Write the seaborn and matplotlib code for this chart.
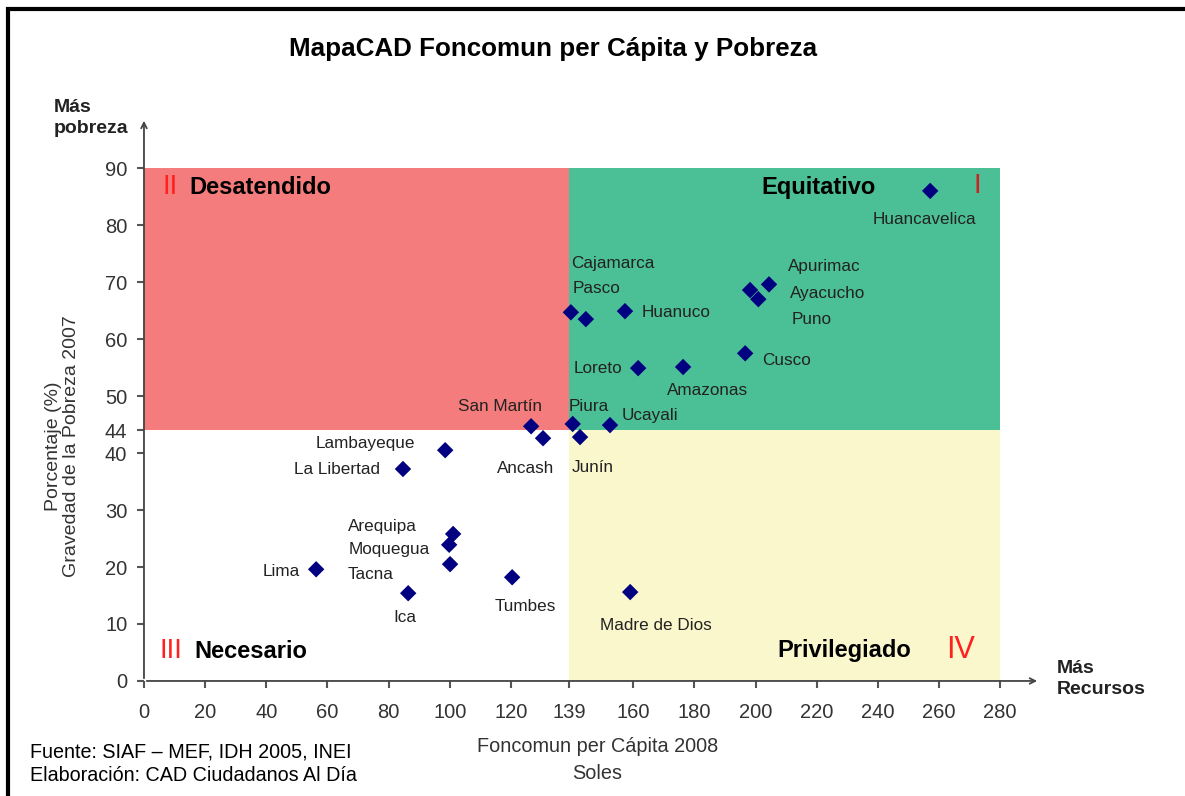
import pandas as pd
import matplotlib.pyplot as plt
import seaborn as sns
from matplotlib.patches import Rectangle

# -----------------------------
# Data
# -----------------------------

regions = [
    "Huancavelica", "Apurimac", "Ayacucho", "Puno", "Cajamarca", "Pasco",
    "Huanuco", "Loreto", "Amazonas", "Cusco", "Piura", "Ucayali", "Junín",
    "San Martín", "Ancash", "Lambayeque", "La Libertad", "Arequipa",
    "Moquegua", "Tacna", "Lima", "Ica", "Tumbes", "Madre de Dios",
]
foncomun = [
    257.1, 204.4, 198.2, 200.9, 139.6, 144.5,
    157.3, 161.6, 176.3, 196.6, 140.2, 152.4, 142.6,
    126.6, 130.5, 98.5, 84.7, 101.1,
    99.8, 100.1, 56.3, 86.4, 120.4, 159.0,
]
pobreza = [
    86.0, 69.6, 68.6, 67.0, 64.7, 63.5,
    64.9, 54.9, 55.1, 57.5, 45.1, 44.9, 42.8,
    44.7, 42.6, 40.5, 37.2, 25.8,
    23.9, 20.5, 19.6, 15.4, 18.2, 15.6,
]

x_ticks = [0, 20, 40, 60, 80, 100, 120, 139, 160, 180, 200, 220, 240, 260, 280]
y_ticks = [0, 10, 20, 30, 40, 44, 50, 60, 70, 80, 90]

X_CUT, Y_CUT = 139, 44
X_MAX, Y_MAX = 280, 90

df = pd.DataFrame({"region": regions, "foncomun": foncomun, "pobreza": pobreza})

# label placement: (dx, dy) in pixels from the marker, horizontal alignment
label_pos = {
    "Huancavelica": (-6, -29, "center"),
    "Apurimac": (19, 18, "left"),
    "Ayacucho": (40, -3, "left"),
    "Puno": (33, -20, "left"),
    "Cajamarca": (0, 49, "left"),
    "Pasco": (-13, 31, "left"),
    "Huanuco": (17, -1, "left"),
    "Loreto": (-16, 0, "right"),
    "Amazonas": (24, -24, "center"),
    "Cusco": (17, -7, "left"),
    "Piura": (-4, 17, "left"),
    "Ucayali": (12, 10, "left"),
    "Junín": (-8, -30, "left"),
    "San Martín": (-31, 20, "center"),
    "Ancash": (11, -30, "right"),
    "Lambayeque": (-30, 7, "right"),
    "La Libertad": (-23, -1, "right"),
    "Arequipa": (-105, 7, "left"),
    "Moquegua": (-101, -5, "left"),
    "Tacna": (-102, -10, "left"),
    "Lima": (-16, -2, "right"),
    "Ica": (-3, -24, "center"),
    "Tumbes": (13, -29, "center"),
    "Madre de Dios": (26, -33, "center"),
}

# -----------------------------
# Figure
# -----------------------------

sns.set_style("white")
plt.rcParams["font.family"] = ["Liberation Sans", "DejaVu Sans"]

fig = plt.figure(figsize=(11.85, 7.96), dpi=100)
ax = fig.add_axes([0.1215, 0.1445, 0.7561, 0.7073])

# quadrants
ax.add_patch(Rectangle((0, Y_CUT), X_CUT, Y_MAX - Y_CUT, color="#F47C7C", lw=0, zorder=0))
ax.add_patch(Rectangle((X_CUT, Y_CUT), X_MAX - X_CUT, Y_MAX - Y_CUT, color="#4BBF96", lw=0, zorder=0))
ax.add_patch(Rectangle((X_CUT, 0), X_MAX - X_CUT, Y_CUT, color="#FAF7CC", lw=0, zorder=0))

sns.scatterplot(
    data=df, x="foncomun", y="pobreza", marker="D", s=70,
    color="#000080", edgecolor="none", ax=ax, zorder=3
)

for _, row in df.iterrows():
    dx, dy, ha = label_pos[row["region"]]
    ax.annotate(
        row["region"], (row["foncomun"], row["pobreza"]),
        xytext=(dx, dy), textcoords="offset pixels",
        ha=ha, va="center", fontsize=12.3, color="#222222"
    )

ax.set_xlim(0, 293)
ax.set_ylim(0, 98.8)
ax.set_xticks(x_ticks)
ax.set_yticks(y_ticks)
ax.tick_params(axis="both", labelsize=14.5, labelcolor="#333333", colors="#555555",
               length=5, width=1.5, direction="out", bottom=True, left=True)
ax.tick_params(axis="x", pad=11)
ax.tick_params(axis="y", pad=7)
ax.set_xlabel("")
ax.set_ylabel("")
for s in ax.spines.values():
    s.set_visible(False)

# axis arrows
arrow = dict(arrowstyle="->", color="#444444", lw=1.3)
ax.annotate("", xy=(1, 0), xytext=(0, 0), xycoords="axes fraction", arrowprops=arrow)
ax.annotate("", xy=(0, 1), xytext=(0, 0), xycoords="axes fraction", arrowprops=arrow)

# quadrant names
ax.text(6, 86.6, "II", color="#FF2020", fontsize=20, va="center", ha="left")
ax.text(15, 86.6, "Desatendido", fontsize=17, fontweight="bold", color="black",
        va="center", ha="left")
ax.text(220.5, 86.6, "Equitativo", fontsize=17, fontweight="bold", color="black",
        va="center", ha="center")
ax.text(272.5, 86.8, "I", color="#CC2222", fontsize=20, va="center", ha="center")
ax.text(5, 5.2, "III", color="#FF2020", fontsize=20, va="center", ha="left")
ax.text(16.6, 5.2, "Necesario", fontsize=17, fontweight="bold", color="black",
        va="center", ha="left")
ax.text(251, 5.4, "Privilegiado", fontsize=17, fontweight="bold", color="black",
        va="center", ha="right")
ax.text(267, 5.4, "IV", color="#FF2020", fontsize=22, va="center", ha="center")

# texts around the axes
fig.text(0.467, 0.939, "MapaCAD Foncomun per Cápita y Pobreza",
         fontsize=18.7, fontweight="bold", color="black", ha="center", va="center")
fig.text(0.045, 0.852, "Más\npobreza", fontsize=14, fontweight="bold",
         color="#222222", ha="left", va="center", linespacing=1.35)
fig.text(0.892, 0.147, "Más\nRecursos", fontsize=14, fontweight="bold",
         color="#222222", ha="left", va="center", linespacing=1.35)
fig.text(0.053, 0.44, "Porcentaje (%)\nGravedad de la Pobreza 2007",
         fontsize=14, color="#333333", rotation=90, ha="center", va="center",
         linespacing=1.05)
fig.text(0.504, 0.045, "Foncomun per Cápita 2008\nSoles", fontsize=14.3,
         color="#333333", ha="center", va="center", linespacing=1.5)
fig.text(0.025, 0.041, "Fuente: SIAF – MEF, IDH 2005, INEI\nElaboración: CAD Ciudadanos Al Día",
         fontsize=14.2, color="black", ha="left", va="center", linespacing=1.3)

# frame around the picture
fig.add_artist(Rectangle((0.0068, -0.05), 1.2, 1.0387, transform=fig.transFigure,
                         fill=False, lw=3, edgecolor="black"))

plt.savefig("out.png", dpi=100)
plt.close()
